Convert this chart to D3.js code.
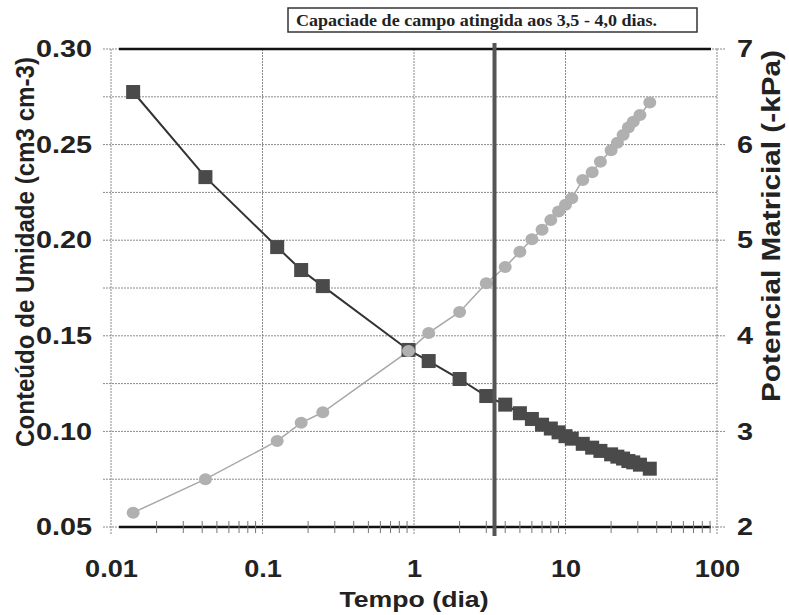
<!DOCTYPE html>
<meta charset="utf-8">
<script src="https://d3js.org/d3.v7.min.js"></script>
<style>
  body { margin: 0; background: #fff; }
  text { font-family: "Liberation Sans", Arial, sans-serif; font-weight: bold; fill: #222; }
</style>
<div id="chart"></div>
<script>
// tempo (dia), umidade (squares, left axis), potencial (circles, right axis)
var tempo = [0.014, 0.042, 0.125, 0.18, 0.25, 0.92, 1.25, 2, 3,
             4, 5, 6, 7, 8, 9, 10, 11, 13, 15, 17, 20, 22, 24, 26, 28, 31, 36];
var umidade = [0.2775, 0.233, 0.1964, 0.1844, 0.176, 0.1426, 0.1368, 0.1274, 0.1185,
               0.1140, 0.1095, 0.1065, 0.1035, 0.1015, 0.0995, 0.0975, 0.0962, 0.0935,
               0.0915, 0.0898, 0.0880, 0.0868, 0.0858, 0.0845, 0.0838, 0.0826, 0.0805];
var potencial = [2.15, 2.50, 2.90, 3.09, 3.20, 3.84, 4.03, 4.25, 4.55,
                 4.72, 4.88, 5.01, 5.11, 5.21, 5.30, 5.37, 5.44, 5.63,
                 5.71, 5.82, 5.94, 6.02, 6.10, 6.18, 6.24, 6.31, 6.44];
var xTicks = [0.01, 0.1, 1, 10, 100];
var leftTicks = [0.05, 0.10, 0.15, 0.20, 0.25, 0.30];
var rightTicks = [2, 3, 4, 5, 6, 7];
var capacidade = 3.4;
var nota = "Capaciade de campo atingida aos 3,5 - 4,0 dias.";

var width = 789, height = 615;
var margin = {top: 49, right: 72, bottom: 88, left: 111};

var svg = d3.select("#chart").append("svg")
    .attr("width", width).attr("height", height);

var x = d3.scaleLog().domain([0.01, 100]).range([margin.left, width - margin.right]);
var yL = d3.scaleLinear().domain([0.05, 0.30]).range([height - margin.bottom, margin.top]);
var yR = d3.scaleLinear().domain([2, 7]).range([height - margin.bottom, margin.top]);

var x0 = x.range()[0], x1 = x.range()[1];
var yTop = yR(7), yBot = yR(2);

// gridlines (dotted)
var grid = svg.append("g").attr("stroke", "#8a8a8a").attr("stroke-width", 1)
    .attr("stroke-dasharray", "2,1");
grid.selectAll("line.h").data(yR.ticks(10)).enter().append("line")
    .attr("x1", x0 - 8).attr("x2", x1)
    .attr("y1", d => yR(d)).attr("y2", d => yR(d));
grid.selectAll("line.v").data(xTicks).enter().append("line")
    .attr("x1", d => x(d)).attr("x2", d => x(d))
    .attr("y1", yTop).attr("y2", yBot + 8);
// right tick marks
grid.selectAll("line.r").data(rightTicks).enter().append("line")
    .attr("x1", x1).attr("x2", x1 + 9)
    .attr("y1", d => yR(d)).attr("y2", d => yR(d));

// heavy top and bottom lines
svg.append("g").selectAll("line").data([7, 2]).enter().append("line")
    .attr("x1", x0 + 8).attr("x2", x1 - 6)
    .attr("y1", d => yR(d)).attr("y2", d => yR(d))
    .attr("stroke", "#111").attr("stroke-width", 2.5);

// minor x ticks
svg.append("g").selectAll("line").data(x.ticks().filter(d => xTicks.indexOf(d) < 0)).enter()
    .append("line")
    .attr("x1", d => x(d)).attr("x2", d => x(d))
    .attr("y1", yBot - 6).attr("y2", yBot + 6)
    .attr("stroke", "#777").attr("stroke-width", 1);

// axes labels via d3 axes
function stretch(sel, k) {
  sel.each(function() {
    var w = this.getComputedTextLength();
    d3.select(this).attr("textLength", w * k).attr("lengthAdjust", "spacingAndGlyphs");
  });
}

var gx = svg.append("g").attr("transform", "translate(0," + yBot + ")")
    .call(d3.axisBottom(x).tickValues(xTicks).tickFormat(d => String(d)).tickSize(0).tickPadding(50));
gx.select(".domain").remove();
gx.selectAll("text").style("font-size", "23px").attr("fill", "#222").attr("dy", 0)
    .call(stretch, 1.18);

var gl = svg.append("g").attr("transform", "translate(" + x0 + ",0)")
    .call(d3.axisLeft(yL).tickValues(leftTicks).tickFormat(d3.format(".2f")).tickSize(0).tickPadding(19));
gl.select(".domain").remove();
gl.selectAll("text").style("font-size", "24px").attr("fill", "#222").call(stretch, 1.2);

var gr = svg.append("g").attr("transform", "translate(" + x1 + ",0)")
    .call(d3.axisRight(yR).tickValues(rightTicks).tickFormat(d3.format("d")).tickSize(0).tickPadding(20));
gr.select(".domain").remove();
gr.selectAll("text").style("font-size", "24px").attr("fill", "#222").call(stretch, 1.2);

// titles
svg.append("text").attr("x", (x0 + x1) / 2).attr("y", 607)
    .attr("text-anchor", "middle").style("font-size", "22px")
    .attr("textLength", 149).attr("lengthAdjust", "spacingAndGlyphs")
    .text("Tempo (dia)");
svg.append("text").attr("transform", "translate(34,252) rotate(-90)")
    .attr("text-anchor", "middle").style("font-size", "25px")
    .attr("textLength", 390).attr("lengthAdjust", "spacingAndGlyphs")
    .text("Conteúdo de Umidade (cm3 cm-3)");
svg.append("text").attr("transform", "translate(780,226) rotate(-90)")
    .attr("text-anchor", "middle").style("font-size", "25px")
    .attr("textLength", 352).attr("lengthAdjust", "spacingAndGlyphs")
    .text("Potencial Matricial (-kPa)");

// series
var ptsU = tempo.map((t, i) => [t, umidade[i]]);
var ptsP = tempo.map((t, i) => [t, potencial[i]]);

svg.append("path").datum(ptsP)
    .attr("d", d3.line().x(d => x(d[0])).y(d => yR(d[1])))
    .attr("fill", "none").attr("stroke", "#a8a8a8").attr("stroke-width", 1.5);
svg.append("path").datum(ptsU)
    .attr("d", d3.line().x(d => x(d[0])).y(d => yL(d[1])))
    .attr("fill", "none").attr("stroke", "#333").attr("stroke-width", 2);

svg.append("g").selectAll("rect").data(ptsU).enter().append("rect")
    .attr("x", d => x(d[0]) - 7).attr("y", d => yL(d[1]) - 7)
    .attr("width", 14).attr("height", 14)
    .attr("fill", "#4a4a4a");
svg.append("g").selectAll("ellipse").data(ptsP).enter().append("ellipse")
    .attr("cx", d => x(d[0])).attr("cy", d => yR(d[1]))
    .attr("rx", 6.5).attr("ry", 6)
    .attr("fill", "#b0b0b0");

// capacity line
svg.append("line")
    .attr("x1", x(capacidade)).attr("x2", x(capacidade))
    .attr("y1", 43).attr("y2", 536)
    .attr("stroke", "#555").attr("stroke-width", 4);

// annotation box
svg.append("rect").attr("x", 288).attr("y", 8).attr("width", 409).attr("height", 24)
    .attr("fill", "#fff").attr("stroke", "#333").attr("stroke-width", 1.5);
svg.append("text").attr("x", 296).attr("y", 26)
    .style("font-family", "'Liberation Serif', 'Times New Roman', serif")
    .style("font-size", "17px")
    .attr("textLength", 361).attr("lengthAdjust", "spacingAndGlyphs")
    .text(nota);
</script>
